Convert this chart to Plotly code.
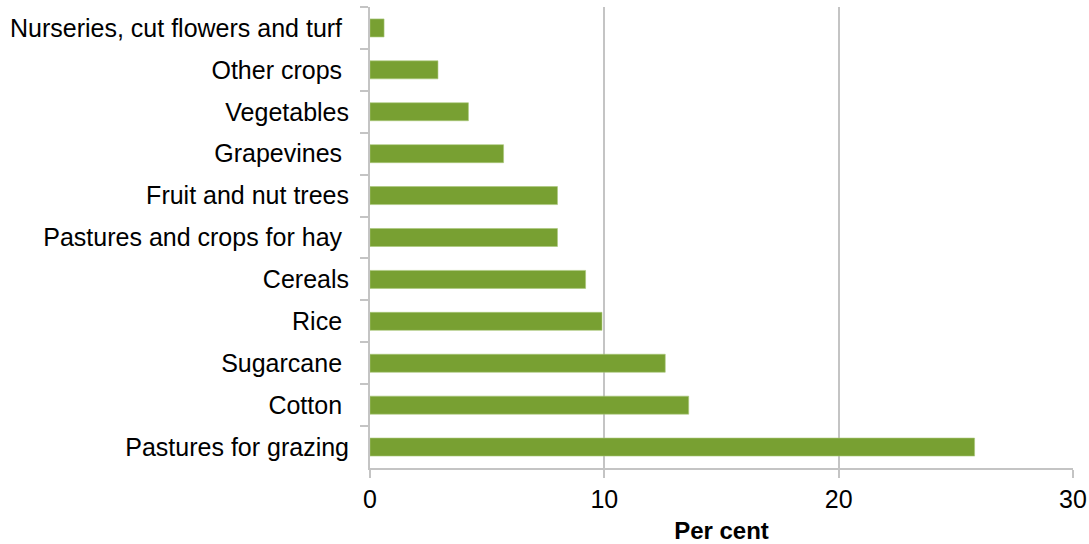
import plotly.graph_objects as go

# Категории сверху вниз, как на картинке
categories = [
    "Nurseries, cut flowers and turf\u00a0",
    "Other crops\u00a0",
    "Vegetables",
    "Grapevines\u00a0",
    "Fruit and nut trees",
    "Pastures and crops for hay\u00a0",
    "Cereals",
    "Rice\u00a0",
    "Sugarcane\u00a0",
    "Cotton\u00a0",
    "Pastures for grazing",
]
values = [0.6, 2.9, 4.2, 5.7, 8.0, 8.0, 9.2, 9.9, 12.6, 13.6, 25.8]
x_ticks = [0, 10, 20, 30]

BAR_COLOR = '#78a032'
GRID_COLOR = '#c4c4c4'

fig = go.Figure(go.Bar(
    x=values,
    y=categories,
    orientation='h',
    marker=dict(color=BAR_COLOR, line=dict(color='#a9c77a', width=0.6)),
))

fig.update_layout(
    width=1089,
    height=544,
    margin=dict(l=370, r=16, t=7, b=76, autoexpand=False),
    plot_bgcolor='white',
    paper_bgcolor='white',
    bargap=0.57,
    showlegend=False,
    font=dict(family='Liberation Sans, Arial, sans-serif', size=25, color='black'),
)

fig.update_xaxes(
    range=[0, 30],
    tickvals=x_ticks,
    showgrid=True,
    gridcolor=GRID_COLOR,
    gridwidth=1.5,
    zeroline=False,
    showline=True,
    linecolor=GRID_COLOR,
    linewidth=2,
    ticks='outside',
    ticklen=8,
    tickcolor=GRID_COLOR,
    tickwidth=1.5,
    ticklabelstandoff=0,
    tickfont=dict(size=25),
    title=dict(text='<b>Per cent</b>', font=dict(size=24), standoff=10),
    automargin=False,
)

fig.update_yaxes(
    autorange='reversed',
    categoryorder='array',
    categoryarray=categories,
    showline=True,
    linecolor=GRID_COLOR,
    linewidth=2,
    ticks='outside',
    tickson='boundaries',
    ticklen=8,
    tickcolor=GRID_COLOR,
    tickwidth=2,
    ticklabelstandoff=14,
    showgrid=False,
    tickfont=dict(size=25),
    automargin=False,
)

# убираем стандартный отступ body, чтобы график занял всё окно
fig.write_html(
    "out.html",
    config={'displayModeBar': False},
    post_script="document.body.style.margin='0';",
)
